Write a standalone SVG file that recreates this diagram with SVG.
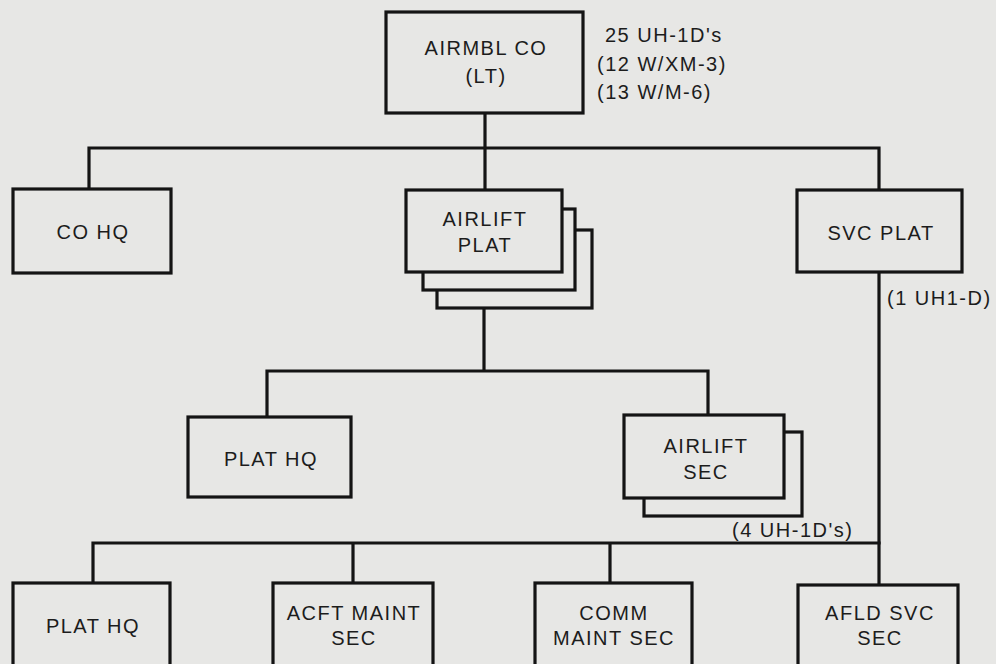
<svg xmlns="http://www.w3.org/2000/svg" width="996" height="664" viewBox="0 0 996 664">
<style>
.box{fill:#e7e7e5;stroke:#141414;stroke-width:3.2;stroke-linejoin:miter}
.ln{fill:none;stroke:#141414;stroke-width:3.2;stroke-linecap:square}
text{font-family:"Liberation Sans",Arial,sans-serif;font-size:20px;fill:#1c1c1c;letter-spacing:1.5px}
.c{text-anchor:middle}
</style>
<rect x="0" y="0" width="996" height="664" fill="#e7e7e5"/>
<g id="connectors">
<path class="ln" d="M485 113 V190 M89 148 H879 M89 148 V189 M879 148 V190"/>
<path class="ln" d="M879 272 V583"/>
<path class="ln" d="M484 308 V371 M267 371 H708 M267 371 V417 M708 371 V415"/>
<path class="ln" d="M93 543 H879 M93 543 V583 M353 543 V583 M610 543 V583"/>
</g>
<g id="airmbl-co">
<rect class="box" x="386" y="12" width="197" height="101"/>
<text class="c" x="486" y="55">AIRMBL CO</text>
<text class="c" x="486" y="83">(LT)</text>
<text x="605" y="42">25 UH-1D's</text>
<text x="597" y="71">(12 W/XM-3)</text>
<text x="597" y="99">(13 W/M-6)</text>
</g>
<g id="co-hq">
<rect class="box" x="13" y="189" width="158" height="84"/>
<text class="c" x="93" y="239">CO HQ</text>
</g>
<g id="airlift-plat">
<rect class="box" x="437" y="230" width="155" height="78"/>
<rect class="box" x="423" y="209" width="152" height="81"/>
<rect class="box" x="406" y="190" width="156" height="82"/>
<text class="c" x="485" y="226">AIRLIFT</text>
<text class="c" x="485" y="252">PLAT</text>
</g>
<g id="svc-plat">
<rect class="box" x="797" y="190" width="165" height="82"/>
<text class="c" x="881" y="240">SVC PLAT</text>
<text x="887" y="305">(1 UH1-D)</text>
</g>
<g id="plat-hq-1">
<rect class="box" x="188" y="417" width="163" height="80"/>
<text class="c" x="271" y="466">PLAT HQ</text>
</g>
<g id="airlift-sec">
<rect class="box" x="644" y="432" width="158" height="84"/>
<rect class="box" x="624" y="415" width="160" height="83"/>
<text class="c" x="706" y="453">AIRLIFT</text>
<text class="c" x="706" y="479">SEC</text>
<text x="732" y="537">(4 UH-1D's)</text>
</g>
<g id="plat-hq-2">
<rect class="box" x="13" y="583" width="157" height="90"/>
<text class="c" x="93" y="633">PLAT HQ</text>
</g>
<g id="acft-maint-sec">
<rect class="box" x="273" y="583" width="160" height="90"/>
<text class="c" x="354" y="620">ACFT MAINT</text>
<text class="c" x="354" y="645">SEC</text>
</g>
<g id="comm-maint-sec">
<rect class="box" x="535" y="583" width="157" height="90"/>
<text class="c" x="614" y="620">COMM</text>
<text class="c" x="614" y="645">MAINT SEC</text>
</g>
<g id="afld-svc-sec">
<rect class="box" x="798" y="585" width="160" height="90"/>
<text class="c" x="880" y="620">AFLD SVC</text>
<text class="c" x="880" y="645">SEC</text>
</g>
</svg>
